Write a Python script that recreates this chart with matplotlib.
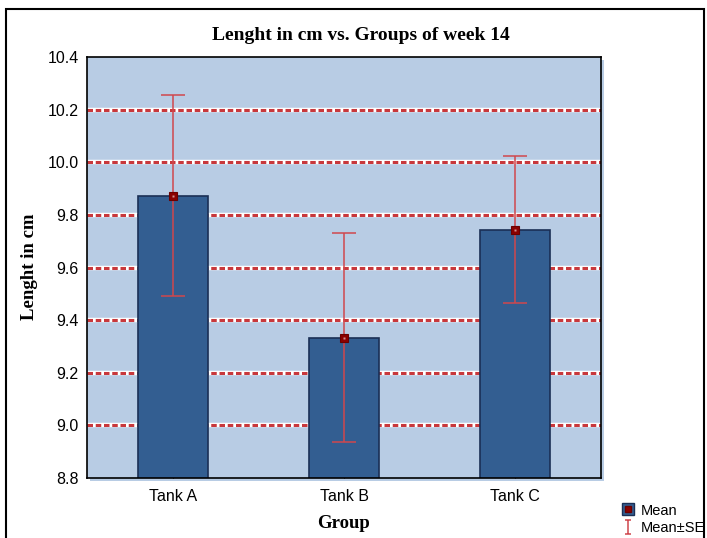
import matplotlib.pyplot as plt
from matplotlib.patches import Rectangle
from matplotlib.lines import Line2D
from matplotlib.path import Path
from matplotlib.legend_handler import HandlerTuple

groups = ['Tank A', 'Tank B', 'Tank C']
means = [9.872, 9.332, 9.742]
se_upper = [10.256, 9.731, 10.024]
se_lower = [9.492, 8.937, 9.465]
yticks = [8.8, 9.0, 9.2, 9.4, 9.6, 9.8, 10.0, 10.2, 10.4]

bg = '#b8cce4'
bar_col = '#335e91'
bar_edge = '#1a2f55'
err_col = '#d0474d'
mean_col = '#8b0000'

plt.rcParams['font.family'] = ['Liberation Sans', 'DejaVu Sans']

fig = plt.figure(figsize=(7.07, 5.38), dpi=100)
fig.patch.set_facecolor('white')

# outer frame
fig.add_artist(Rectangle((6 / 707, -0.05), 698 / 707, 1.05 - 9 / 538,
                         transform=fig.transFigure, fill=False,
                         edgecolor='black', linewidth=1.5))

left, right = 87 / 707, 601 / 707
bottom, top = 1 - 478 / 538, 1 - 57 / 538
# light blue shadow at right/bottom
fig.add_artist(Rectangle((left + 3 / 707, bottom - 3 / 538), right - left, top - bottom,
                         transform=fig.transFigure, facecolor=bg, edgecolor='none',
                         zorder=0))

ax = fig.add_axes([left, bottom, right - left, top - bottom])
ax.set_facecolor(bg)

x = list(range(len(groups)))

# grid lines: white base with red dots
for yv in yticks[1:-1]:
    ax.axhline(yv, color='white', linewidth=3.2, zorder=1)
    ax.axhline(yv, color='#c8383c', linewidth=2.2, linestyle=(0, (1.8, 0.9)), zorder=1.1)

ax.bar(x, means, width=0.41, color=bar_col, edgecolor=bar_edge, linewidth=1.2, zorder=2)

yerr = [[m - lo for m, lo in zip(means, se_lower)],
        [hi - m for m, hi in zip(means, se_upper)]]
ax.errorbar(x, means, yerr=yerr, fmt='none', ecolor=err_col, elinewidth=1.1,
            capsize=8.5, capthick=1.1, zorder=3)
ax.plot(x, means, 's', markersize=6, markerfacecolor=mean_col,
        markeredgecolor='#6a0000', markeredgewidth=0.8, zorder=4)
ax.plot(x, means, 's', markersize=1.5, markerfacecolor='#d09090',
        markeredgecolor='none', zorder=5)

ax.set_xlim(-0.5, 2.5)
ax.set_ylim(8.8, 10.4)
ax.set_xticks(x)
ax.set_xticklabels(groups, fontsize=11.5)
ax.set_yticks(yticks)
ax.set_yticklabels([f'{v:.1f}' for v in yticks], fontsize=11.5)
ax.tick_params(axis='x', direction='in', length=3, pad=8, color='black')
ax.tick_params(axis='y', length=0, pad=6)
for s in ax.spines.values():
    s.set_color('black')
    s.set_linewidth(1.2)

fig.text(361 / 707, 1 - 35 / 538, 'Lenght in cm vs. Groups of week 14',
         ha='center', va='center', fontsize=14, fontweight='bold',
         family='Liberation Serif')
fig.text(344 / 707, 1 - 523 / 538, 'Group', ha='center', va='center',
         fontsize=13.5, fontweight='bold', family='Liberation Serif')
fig.text(30 / 707, 1 - 267 / 538, 'Lenght in cm', ha='center', va='center',
         rotation=90, fontsize=13.5, fontweight='bold', family='Liberation Serif')

# legend
ibeam = Path([(-0.5, 1), (0.5, 1), (0, 1), (0, -1), (-0.5, -1), (0.5, -1)],
             [Path.MOVETO, Path.LINETO, Path.MOVETO, Path.LINETO, Path.MOVETO, Path.LINETO])
mean_handle = (Line2D([], [], marker='s', linestyle='none', markersize=9,
                      markerfacecolor=bar_col, markeredgecolor=bar_edge),
               Line2D([], [], marker='s', linestyle='none', markersize=4,
                      markerfacecolor=mean_col, markeredgecolor='#6a0000'))
se_handle = Line2D([], [], marker=ibeam, linestyle='none', markersize=10,
                   markerfacecolor='none', markeredgecolor=err_col, markeredgewidth=1.1)
fig.legend([mean_handle, se_handle], ['Mean', 'Mean\u00b1SE'],
           handler_map={tuple: HandlerTuple(ndivide=1, pad=0)},
           loc='lower left', bbox_to_anchor=(613 / 707, 1 - 544 / 538),
           frameon=False, fontsize=10.5, handlelength=0.9, handleheight=0.9,
           handletextpad=0.4, labelspacing=0.25, borderpad=0.1)

fig.savefig('out.png', dpi=100)
